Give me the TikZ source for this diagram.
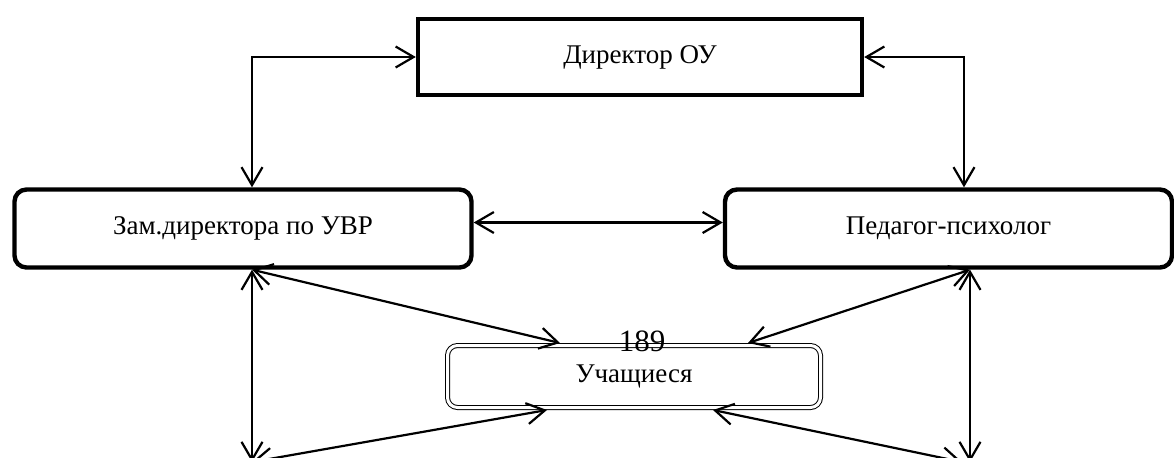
\documentclass[tikz,border=0pt]{standalone}
\usepackage{fontspec}
\setmainfont{Liberation Serif}
\usepackage{tikz}
\usetikzlibrary{arrows.meta}

\begin{document}
\begin{tikzpicture}
      [ x=0.5pt, y=-0.5pt
      , font=\fontsize{13.5}{16}\selectfont
      , box/.style={draw, line width=2.2pt, minimum height=38pt}
      , roundbox/.style={box, rounded corners=6pt, minimum height=39pt}
      , pupils/.style={draw, double, line width=0.5pt, double distance=1.5pt,
          rounded corners=5pt, minimum width=186.5pt, minimum height=31pt,
          outer sep=1.25pt}
      , link/.style={line width=1.1pt,
          {Straight Barb[length=9pt,width=10.5pt]}-{Straight Barb[length=9pt,width=10.5pt]}}
      ]
    \useasboundingbox (0,0) rectangle (1174,457);
    \clip (0,0) rectangle (1174,457);

    \node[box, minimum width=222pt] (D) at (640,57) {Директор ОУ};
    \node[roundbox, minimum width=228.5pt] (Z) at (243,228.5) {Зам.директора по УВР};
    \node[roundbox, minimum width=223.5pt] (P) at (948.5,228.5) {Педагог-психолог};
    \node[pupils] (U) at (634,376.5) {Учащиеся};
    \node[font=\fontsize{15.5}{18}\selectfont, inner sep=0pt] (pg) at (642,341) {189};

    \coordinate (L) at (252,462);
    \coordinate (R) at (962,462);
    \coordinate (Rv) at (970,462);

    \draw[link] ([xshift=4.5pt]Z.north) |- (D.west);
    \draw[link] (D.east) -| ([xshift=7.75pt]P.north);

    \draw[link]
    ([yshift=3pt]Z.east) edge ([yshift=3pt]P.west)

    ([xshift=4.5pt]Z.south) edge (L)
    ([xshift=4.5pt]Z.south) edge ([xshift=-37pt]U.north)

    ([xshift=10.75pt]P.south) edge (Rv)
    ([xshift=10.75pt]P.south) edge ([xshift=57pt]U.north)

    (L) edge ([xshift=-43.5pt]U.south)
    (R) edge ([xshift=39.5pt]U.south);
\end{tikzpicture}
\end{document}
